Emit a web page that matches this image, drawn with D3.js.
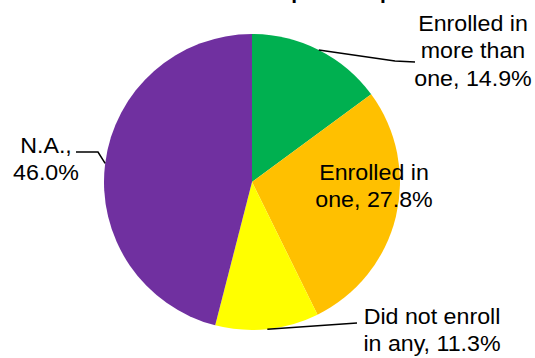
<!DOCTYPE html>
<html>
<head>
<meta charset="utf-8">
<script src="https://cdn.jsdelivr.net/npm/d3@7"></script>
<style>
html,body{margin:0;padding:0;background:#fff;}
svg{display:block;font-family:"Liberation Sans",Arial,sans-serif;}
</style>
</head>
<body>
<svg id="chart" width="535" height="358"></svg>
<script>
const categories = ["Enrolled in more than one", "Enrolled in one", "Did not enroll in any", "N.A."];
const values = [14.9, 27.8, 11.3, 46.0];
const colors = ["#00B050", "#FFC000", "#FFFF00", "#7030A0"];
const labelLines = [["Enrolled in", "more than", "one, 14.9%"], ["Enrolled in", "one, 27.8%"], ["Did not enroll", "in any, 11.3%"], ["N.A.,", "46.0%"]];
const titleText = "Enrollment in Group Health plans";

const svg = d3.select("#chart");
const cx = 252, cy = 182, R = 148;

svg.append("text").attr("x", 268).attr("y", -1).attr("text-anchor", "middle")
  .attr("font-weight", "bold").attr("font-size", 21).text(titleText);

const pie = d3.pie().sort(null).value(d => d)(values);
const arc = d3.arc().innerRadius(0).outerRadius(R);
const g = svg.append("g").attr("transform", `translate(${cx},${cy})`);
g.selectAll("path").data(pie).join("path").attr("d", arc).attr("fill", (d, i) => colors[i]);

const labelPos = [
  {x: 473, y: 31, leader: [[395, 61], [415, 62]]},
  {x: 374, y: 180, leader: null},
  {x: 432, y: 324, leader: [[357, 323]]},
  {x: 46, y: 153, leader: [[98, 152], [76, 152]]}
];
const fs = 21.5, lh = 27.5, sx = 1.08;
pie.forEach((d, i) => {
  const p = labelPos[i];
  if (p.leader) {
    const a = (d.startAngle + d.endAngle) / 2;
    const start = [cx + R * Math.sin(a), cy - R * Math.cos(a)];
    const pts = [start].concat(p.leader);
    svg.append("path").attr("d", d3.line()(pts)).attr("fill", "none")
      .attr("stroke", "#000").attr("stroke-width", 1.5);
  }
  const t = svg.append("text").attr("text-anchor", "middle").attr("font-size", fs).attr("fill", "#000")
    .attr("transform", `translate(${p.x},${p.y}) scale(${sx},1)`);
  labelLines[i].forEach((s, k) => {
    t.append("tspan").attr("x", 0).attr("y", k * lh).text(s);
  });
});
</script>
</body>
</html>
